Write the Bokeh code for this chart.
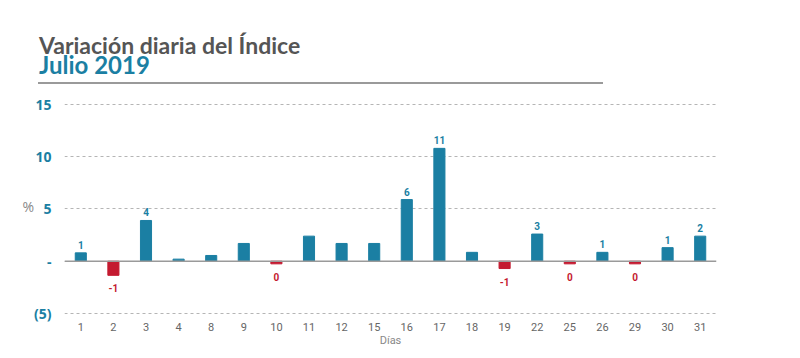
from bokeh.plotting import figure
from bokeh.layouts import column
from bokeh.models import ColumnDataSource, Range1d, FixedTicker, Span, Div
from bokeh.core.properties import value
from bokeh.embed import file_html
from bokeh.resources import INLINE

# ---- data ----
dias = ["1", "2", "3", "4", "8", "9", "10", "11", "12", "15",
        "16", "17", "18", "19", "22", "25", "26", "29", "30", "31"]
valores = [0.8, -1.35, 3.9, 0.2, 0.55, 1.7, -0.25, 2.4, 1.7, 1.7,
           5.9, 10.8, 0.85, -0.7, 2.6, -0.25, 0.85, -0.25, 1.3, 2.4]
etiquetas = ["1", "-1", "4", "", "", "", "0", "", "", "",
             "6", "11", "", "-1", "3", "0", "1", "0", "1", "2"]
y_ticks = [-5, 0, 5, 10, 15]
y_tick_labels = {-5: "(5)", 0: "-", 5: "5", 10: "10", 15: "15"}
titulo = "Variación diaria del Índice"
subtitulo = "Julio 2019"

TEAL = "#1b7fa3"
RED = "#c41a30"
GREY = "#666666"

W = 784
HEAD_H = 86

header = Div(
    text=(
        '<div style="position:absolute; left:38px; top:0px; width:565px; height:84px; '
        'border-bottom:2px solid #9a9a9a; box-sizing:border-box;">'
        '<div style="position:absolute; left:1px; top:35px; font-family:Lato; font-weight:bold; '
        'font-size:23px; line-height:20px; color:#555555; white-space:nowrap;">'
        + titulo +
        '</div>'
        '<div style="position:absolute; left:1px; top:55px; font-family:Lato; font-weight:bold; '
        'font-size:24px; line-height:20px; color:' + TEAL + '; white-space:nowrap;">'
        + subtitulo +
        '</div></div>'
    ),
    width=W, height=HEAD_H, styles={"position": "relative", "margin": "0", "padding": "0"},
)

p = figure(width=W, height=264, x_range=dias, y_range=Range1d(-5.29, 15.86),
           output_backend="svg", toolbar_location=None,
           min_border_left=64, min_border_right=68, min_border_top=9, min_border_bottom=34)
p.outline_line_color = None
p.xgrid.grid_line_color = None
p.ygrid.grid_line_color = "#b5b5b5"
p.ygrid.grid_line_dash = "3 3"
p.ygrid.grid_line_width = 1
p.yaxis.ticker = FixedTicker(ticks=y_ticks)
p.yaxis.major_label_overrides = y_tick_labels
p.yaxis.axis_line_color = None
p.yaxis.major_tick_line_color = None
p.yaxis.minor_tick_line_color = None
p.yaxis.major_label_text_color = TEAL
p.yaxis.major_label_text_font = "Open Sans"
p.yaxis.major_label_text_font_style = "bold"
p.yaxis.major_label_text_font_size = "14px"
p.yaxis.major_label_standoff = 7
p.yaxis.axis_label = "%"
p.yaxis.axis_label_orientation = "horizontal"
p.yaxis.axis_label_text_font = "Open Sans"
p.yaxis.axis_label_text_font_style = "normal"
p.yaxis.axis_label_text_font_size = "14px"
p.yaxis.axis_label_text_color = "#888888"
p.yaxis.axis_label_standoff = -3

p.xaxis.axis_line_color = None
p.xaxis.major_tick_line_color = None
p.xaxis.minor_tick_line_color = None
p.xaxis.major_label_text_color = GREY
p.xaxis.major_label_text_font = "Roboto"
p.xaxis.major_label_text_font_size = "11px"
p.xaxis.major_label_standoff = 0
p.xaxis.axis_label = "Días"
p.xaxis.axis_label_text_font = "Roboto"
p.xaxis.axis_label_text_font_style = "normal"
p.xaxis.axis_label_text_font_size = "11px"
p.xaxis.axis_label_text_color = "#888888"
p.xaxis.axis_label_standoff = 0

colores = [TEAL if v >= 0 else RED for v in valores]
src = ColumnDataSource(dict(dias=dias, valores=valores, colores=colores))
sel_p = [i for i, (v, t) in enumerate(zip(valores, etiquetas)) if v >= 0 and t]
sel_n = [i for i, (v, t) in enumerate(zip(valores, etiquetas)) if v < 0 and t]
pos = ColumnDataSource(dict(dias=[dias[i] for i in sel_p], valores=[valores[i] for i in sel_p],
                            etiquetas=[etiquetas[i] for i in sel_p]))
neg = ColumnDataSource(dict(dias=[dias[i] for i in sel_n], valores=[valores[i] for i in sel_n],
                            etiquetas=[etiquetas[i] for i in sel_n]))

p.vbar(x="dias", top="valores", bottom=0, width=0.34, color="colores", source=src)
p.add_layout(Span(location=0, dimension="width", line_color="#9a9a9a", line_width=1.5))

p.text(x="dias", y="valores", text="etiquetas", source=pos, text_align="center",
       text_baseline="bottom", y_offset=-4, text_color=TEAL, text_font=value("Roboto"),
       text_font_style="bold", text_font_size="10px")
p.text(x="dias", y="valores", text="etiquetas", source=neg, text_align="center",
       text_baseline="top", y_offset=9, text_color=RED, text_font=value("Roboto"),
       text_font_style="bold", text_font_size="10px")

layout = column(header, p, spacing=0)
open("out.html", "w").write(file_html(layout, INLINE))
